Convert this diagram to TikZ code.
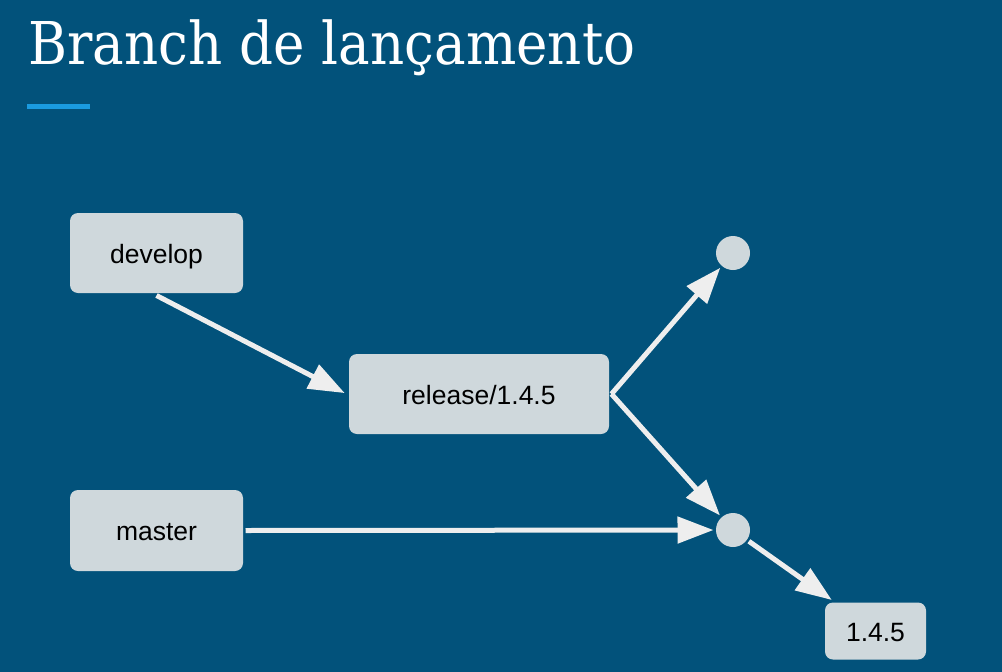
\documentclass[tikz,border=0pt]{standalone}
\usepackage{fontspec}
\setmainfont{Liberation Sans}
\newfontfamily\titlefont[FakeStretch=0.9]{DejaVu Serif}
\usepackage{tikz}
\usetikzlibrary{arrows.meta,shapes}
\definecolor{slidebg}{HTML}{02527B}
\definecolor{boxgray}{HTML}{CFD8DC}
\definecolor{arrowwhite}{HTML}{EEEEEE}
\definecolor{accentblue}{HTML}{1A9BE0}

\begin{document}
\begin{tikzpicture}[x=1pt,y=-1pt,->,>={Triangle[length=36pt,width=26pt]},line width=5pt,
  every edge/.append style={draw=arrowwhite}]
\tikzstyle{branch}=[draw=none,fill=boxgray,rounded corners=8pt,text=black,font=\fontsize{26.5}{30}\selectfont,
  inner sep=0pt,text height=20pt,text depth=0pt]
\tikzstyle{commit}=[draw=none,fill=boxgray,circle,minimum size=34pt,inner sep=0pt]
\fill[slidebg] (0,0) rectangle (1002,672);
\useasboundingbox (0,0) rectangle (1002,672);
\node[anchor=base west,text=white,font=\titlefont\fontsize{59}{64}\selectfont,inner sep=0pt] (title) at (26,64) {Branch de lançamento};
\fill[accentblue] (27,104) rectangle (90,109);
\node[branch,minimum width=173pt,minimum height=80pt] (develop) at (156.5,253) {develop};
\node[branch,minimum width=260pt,minimum height=80pt] (release) at (479,394) {release/1.4.5};
\node[branch,minimum width=173pt,minimum height=81pt] (master) at (156.5,530.5) {master};
\node[branch,minimum width=101pt,minimum height=57pt] (tag) at (875.5,631) {1.4.5};
\node[commit] (next) at (733,253) {};
\node[commit] (merge) at (733,530) {};
\path (develop.south) edge[shorten >=2pt] (release.west)
      (release.east) edge (next)
      (release.east) edge (merge)
      (master.east) edge (merge)
      (merge) edge (tag);
\end{tikzpicture}
\end{document}
